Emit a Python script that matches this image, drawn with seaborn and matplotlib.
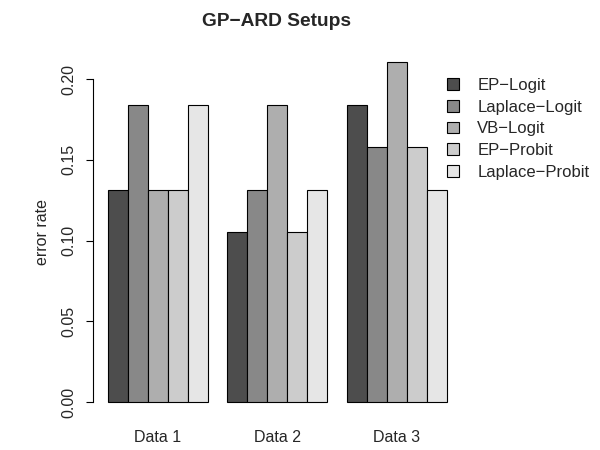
import numpy as np
import pandas as pd
import seaborn as sns
import matplotlib.pyplot as plt
from matplotlib.patches import Patch

sns.set_theme(style="white")
plt.rcParams["font.family"] = ["Liberation Sans", "DejaVu Sans"]

# Data (error rates)
datasets = ["Data 1", "Data 2", "Data 3"]
methods = ["EP\u2212Logit", "Laplace\u2212Logit", "VB\u2212Logit", "EP\u2212Probit", "Laplace\u2212Probit"]
ep_logit = [0.1316, 0.1053, 0.1842]
laplace_logit = [0.1842, 0.1316, 0.1579]
vb_logit = [0.1316, 0.1842, 0.2105]
ep_probit = [0.1316, 0.1053, 0.1579]
laplace_probit = [0.1842, 0.1316, 0.1316]
colors = ["#4D4D4D", "#888888", "#AEAEAE", "#CCCCCC", "#E6E6E6"]

series = [ep_logit, laplace_logit, vb_logit, ep_probit, laplace_probit]
df = pd.DataFrame(
    [(d, m, v[i]) for m, v in zip(methods, series) for i, d in enumerate(datasets)],
    columns=["dataset", "method", "error"],
)

fig = plt.figure(figsize=(6, 4.5), dpi=100)
ax = fig.add_axes([93 / 600, 1 - 415.9 / 450, (461 - 93) / 600, (415.9 - 48.4) / 450])

sns.barplot(
    data=df, x="dataset", y="error", hue="method", order=datasets, hue_order=methods,
    palette=colors, width=0.837, edgecolor="black", linewidth=0.8, saturation=1,
    legend=False, ax=ax,
)

ax.set_xlim(-0.541, 2.538)
ax.set_ylim(-0.00842, 0.21894)
for s in ["top", "right", "bottom"]:
    ax.spines[s].set_visible(False)
ax.spines["left"].set_bounds(0, 0.2)
ax.spines["left"].set_color("black")
ax.spines["left"].set_linewidth(0.8)

yt = [0.0, 0.05, 0.10, 0.15, 0.20]
ax.set_yticks(yt)
ax.set_yticklabels(["%.2f" % v for v in yt], rotation=90, va="center", fontsize=11.5)
ax.tick_params(axis="y", left=True, length=5, width=0.8, color="black", pad=7)
ax.tick_params(axis="x", bottom=False, length=0, pad=10, labelsize=11.5)
ax.set_xlabel("")
ax.set_ylabel("error rate", fontsize=11.5, labelpad=8)
ax.set_title("GP\u2212ARD Setups", fontsize=13.8, fontweight="bold", pad=16)

handles = [Patch(facecolor=c, edgecolor="black", linewidth=0.8) for c in colors]
fig.legend(
    handles, methods, loc="upper left", bbox_to_anchor=(447 / 600, 1 - 78 / 450),
    bbox_transform=fig.transFigure, frameon=False, fontsize=12,
    handlelength=0.72, handleheight=0.72, handletextpad=1.1, labelspacing=0.4,
    borderpad=0, borderaxespad=0,
)

plt.savefig("out.png", dpi=100)
